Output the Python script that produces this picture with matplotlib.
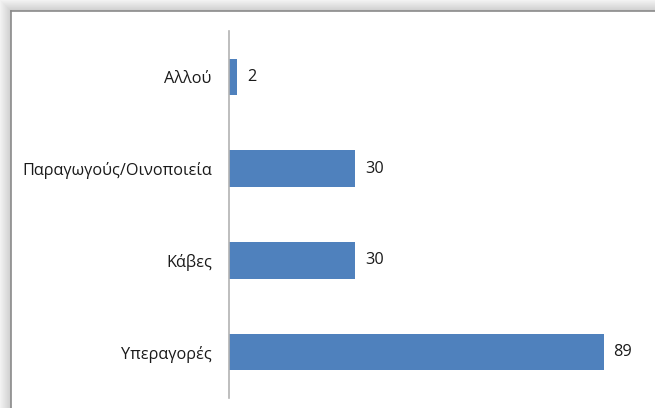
import numpy as np
import matplotlib
matplotlib.use("Agg")
import matplotlib.pyplot as plt

categories = ["Υπεραγορές", "Κάβες", "Παραγωγούς/Οινοποιεία", "Αλλού"]
values = [89, 30, 30, 2]

W, H = 655, 408
DPI = 100
plt.rcParams["font.family"] = ["Open Sans", "DejaVu Sans"]

fig = plt.figure(figsize=(W / DPI, H / DPI), dpi=DPI)

# frame with a soft shadow along the top and left edges
bg = fig.add_axes([0, 0, 1, 1])
bg.set_axis_off()
edge = 11
yy, xx = np.mgrid[0:H, 0:W]
dx = np.clip((edge - xx) / edge, 0, None)
dy = np.clip((edge - yy) / edge, 0, None)
inside = (xx >= edge) & (yy >= edge)
d = np.maximum(dx, dy)
g = 0.80 + 0.15 * d
shade = np.where(inside, 1.0, g)
bg.imshow(np.dstack([shade] * 3), extent=(0, W, H, 0), aspect="auto", interpolation="nearest")
bg.plot([edge, W], [edge, edge], color="#8a8a8a", lw=1.2)
bg.plot([edge, edge], [edge, H], color="#8a8a8a", lw=1.2)
bg.set_xlim(0, W)
bg.set_ylim(H, 0)

ax = fig.add_axes([229 / W, (H - 398) / H, 421 / W, (398 - 31) / H])
ax.set_facecolor("none")
y = np.arange(len(categories))
ax.barh(y, values, height=0.4, color="#4f81bd")
ax.set_xlim(0, 100)
ax.set_ylim(-0.5, len(categories) - 0.5)
ax.set_yticks(y)
ax.set_yticklabels(categories, fontsize=11.7, color="#1a1a1a")
ax.tick_params(axis="y", length=0, pad=12.4)
ax.set_xticks([])
for s in ["top", "right", "bottom"]:
    ax.spines[s].set_visible(False)
ax.spines["left"].set_color("#b3b3b3")
ax.spines["left"].set_linewidth(1.2)

for yi, v in zip(y, values):
    ax.annotate(str(v), (v, yi), xytext=(7, 0), textcoords="offset points",
                va="center", ha="left", fontsize=11.7, color="#1a1a1a")

fig.savefig("out.png", dpi=DPI)
